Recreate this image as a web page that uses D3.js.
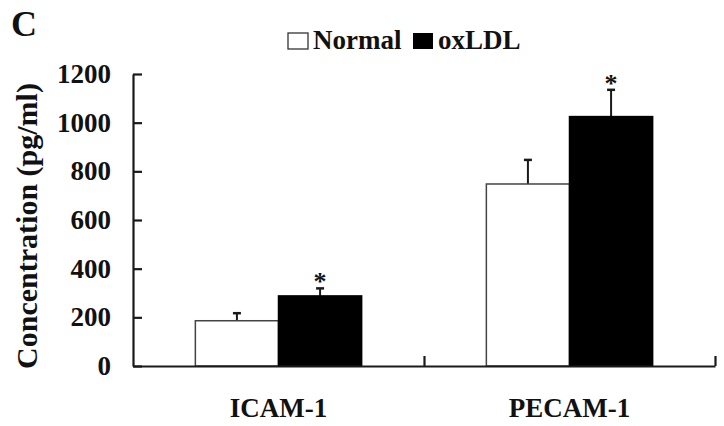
<!DOCTYPE html>
<html>
<head>
<meta charset="utf-8">
<script src="https://cdn.jsdelivr.net/npm/d3@7/dist/d3.min.js"></script>
<style>
  body { margin: 0; background: #fff; }
  text { font-family: "Liberation Serif", "Times New Roman", serif; font-weight: bold; fill: #111; }
</style>
</head>
<body>
<svg id="chart" width="724" height="426"></svg>
<script>
const categories = ["ICAM-1", "PECAM-1"];
const seriesNames = ["Normal", "oxLDL"];
const normalValues = [186, 748];
const normalErrors = [31, 99];
const oxldlValues = [288, 1025];
const oxldlErrors = [31, 110];
const significant = [false, true]; // per series: asterisk on oxLDL
const yTicks = [0, 200, 400, 600, 800, 1000, 1200];

const svg = d3.select("#chart");
const ink = "#1a1a1a";
const serif = "'Liberation Serif', 'Times New Roman', serif";

const plotLeft = 133, plotRight = 715, plotTop = 74, plotBottom = 366;

const y = d3.scaleLinear().domain([0, 1200]).range([plotBottom, plotTop]);
const x = d3.scaleBand().domain(categories).range([plotLeft, plotRight]).padding(0);
const xs = d3.scaleBand().domain(seriesNames).range([0, x.bandwidth()]).paddingInner(0).paddingOuter(0.75);

const data = [];
categories.forEach((c, i) => {
  data.push({cat: c, series: "Normal", v: normalValues[i], e: normalErrors[i], sig: significant[0]});
  data.push({cat: c, series: "oxLDL", v: oxldlValues[i], e: oxldlErrors[i], sig: significant[1]});
});

// error bars (drawn behind bars)
const eb = svg.append("g");
data.forEach(d => {
  const cx = x(d.cat) + xs(d.series) + xs.bandwidth() / 2;
  eb.append("line").attr("x1", cx).attr("x2", cx).attr("y1", y(d.v)).attr("y2", y(d.v + d.e))
    .attr("stroke", ink).attr("stroke-width", 2);
  eb.append("line").attr("x1", cx - 4).attr("x2", cx + 4).attr("y1", y(d.v + d.e)).attr("y2", y(d.v + d.e))
    .attr("stroke", ink).attr("stroke-width", 2.5);
  if (d.sig) {
    svg.append("text").attr("x", cx).attr("y", y(d.v + d.e) + 2)
      .attr("text-anchor", "middle").style("font-size", "26px").text("*");
  }
});

// bars
svg.append("g").selectAll("rect").data(data).join("rect")
  .attr("x", d => x(d.cat) + xs(d.series))
  .attr("y", d => y(d.v))
  .attr("width", xs.bandwidth())
  .attr("height", d => y(0) - y(d.v))
  .attr("fill", d => d.series === "Normal" ? "#fff" : "#000")
  .attr("stroke", d => d.series === "Normal" ? "#444" : "#000")
  .attr("stroke-width", 1.5);

// y axis
const yAxis = svg.append("g").attr("transform", `translate(${plotLeft},0)`)
  .call(d3.axisLeft(y).tickValues(yTicks).tickFormat(d3.format("d")).tickSize(-9).tickPadding(22).tickSizeOuter(0));
yAxis.attr("font-family", serif).attr("font-size", 27).attr("font-weight", "bold");
yAxis.select(".domain").attr("stroke", ink).attr("stroke-width", 2.2);
yAxis.selectAll(".tick line").attr("stroke", ink).attr("stroke-width", 2.2);
yAxis.selectAll(".tick text").style("font-size", "27px").style("font-family", serif)
  .style("font-weight", "bold").attr("fill", "#111");

// x axis with ticks at category boundaries
const xb = d3.scaleLinear().domain([0, categories.length]).range([plotLeft, plotRight]);
const xAxis = svg.append("g").attr("transform", `translate(0,${plotBottom})`)
  .call(d3.axisBottom(xb).tickValues(d3.range(1, categories.length + 1)).tickSize(-10).tickSizeOuter(0).tickFormat(""));
xAxis.select(".domain").attr("stroke", ink).attr("stroke-width", 2.2);
xAxis.selectAll(".tick line").attr("stroke", ink).attr("stroke-width", 2.2);

// category labels
svg.append("g").selectAll("text").data(categories).join("text")
  .attr("x", d => x(d) + x.bandwidth() / 2)
  .attr("y", 417)
  .attr("text-anchor", "middle")
  .style("font-size", "27px")
  .text(d => d);

// y title
svg.append("text")
  .attr("transform", `translate(37,${(plotTop + plotBottom) / 2 + 6}) rotate(-90)`)
  .attr("text-anchor", "middle")
  .style("font-size", "30px")
  .text("Concentration (pg/ml)");

// panel label
svg.append("text").attr("x", 11).attr("y", 36).style("font-size", "36px").text("C");

// legend
const lg = svg.append("g");
lg.append("rect").attr("x", 288).attr("y", 33).attr("width", 20).attr("height", 16)
  .attr("fill", "#fff").attr("stroke", "#333").attr("stroke-width", 1.3);
lg.append("text").attr("x", 313).attr("y", 49).style("font-size", "27px").text(seriesNames[0]);
lg.append("rect").attr("x", 413).attr("y", 33).attr("width", 20).attr("height", 16).attr("fill", "#000");
lg.append("text").attr("x", 438).attr("y", 49).style("font-size", "27px").text(seriesNames[1]);
</script>
</body>
</html>
